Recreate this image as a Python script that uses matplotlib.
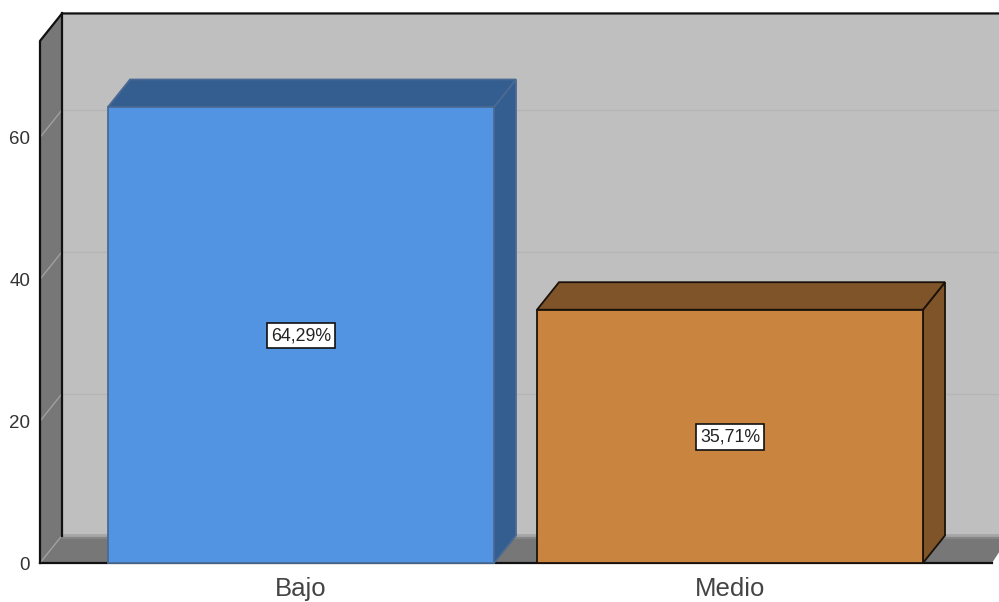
import matplotlib
matplotlib.use('Agg')
import matplotlib.pyplot as plt
from matplotlib.patches import Polygon

categories = ['Bajo', 'Medio']
values = [64.29, 35.71]
labels = ['64,29%', '35,71%']
yticks = [0, 20, 40, 60]

front = ['#5294E2', '#C98540']
top = ['#345D90', '#7E5428']
side = ['#345D90', '#7E5428']
edges = ['#4A6A94', '#1A120A']

# scales
PX_PER_UNIT = 7.093
PX_PER_CAT = 429.0
X0_PX = 301.0
Y0_PX = 563.0
DX = 22 / PX_PER_CAT
DY = 27.5 / PX_PER_UNIT
WIDTH = 386 / PX_PER_CAT

fig = plt.figure(figsize=(9.99, 6.02), dpi=100)
ax = fig.add_axes([0, 0, 1, 1])
ax.set_xlim(-X0_PX / PX_PER_CAT, (999 - X0_PX) / PX_PER_CAT)
ax.set_ylim((Y0_PX - 602) / PX_PER_UNIT, Y0_PX / PX_PER_UNIT)
ax.axis('off')

left = -(X0_PX - 40) / PX_PER_CAT
right = (992 - X0_PX) / PX_PER_CAT
far = (1010 - X0_PX) / PX_PER_CAT
ymax = 73.6


def poly(pts, fc, ec='none', lw=0, z=1):
    ax.add_patch(Polygon(pts, closed=True, fc=fc, ec=ec, lw=lw, zorder=z, joinstyle='miter'))


# back wall, side wall, floor
poly([(left + DX, DY), (far, DY), (far, ymax + DY), (left + DX, ymax + DY)], '#BFBFBF')
poly([(left, 0), (left + DX, DY), (left + DX, ymax + DY), (left, ymax)], '#777777')
poly([(left, 0), (left + DX, DY), (far, DY), (right, 0)], '#777777')
ax.plot([left + DX, far], [DY - 0.25, DY - 0.25], color='#858585', lw=3, zorder=2, solid_capstyle='butt')
ax.plot([left + DX, far], [DY + 0.1, DY + 0.1], color='#A6A6A6', lw=2, zorder=2, solid_capstyle='butt')

# gridlines
for t in yticks:
    ax.plot([left, left + DX], [t, t + DY], color='#A0A0A0', lw=1, zorder=2)
    if t > 0:
        ax.plot([left + DX, far], [t + DY, t + DY], color='#B5B5B5', lw=1, zorder=2)
    ax.text(left - 10 / PX_PER_CAT, t - 0.35, str(t), ha='right', va='center',
            fontsize=13.5, color='#333333', family='Liberation Sans')

# frame
ax.plot([left, left, left + DX, far], [0, ymax, ymax + DY, ymax + DY], color='#111111', lw=1.6, zorder=3)
ax.plot([left + DX, left + DX], [DY, ymax + DY], color='#111111', lw=1.6, zorder=3)
ax.plot([left, right], [0, 0], color='#111111', lw=1.6, zorder=3)

# bars
for i, v in enumerate(values):
    x0 = i - WIDTH / 2
    x1 = i + WIDTH / 2
    ec = edges[i]
    poly([(x1, 0), (x1 + DX, DY), (x1 + DX, v + DY), (x1, v)], side[i], ec, 1.3, 4)
    poly([(x0, v), (x0 + DX, v + DY), (x1 + DX, v + DY), (x1, v)], top[i], ec, 1.3, 4)
    poly([(x0, 0), (x1, 0), (x1, v), (x0, v)], front[i], ec, 1.3, 5)
    ax.text(i, v / 2 - 0.1, labels[i], ha='center', va='center', fontsize=12.8, color='#222222',
            family='Liberation Sans', zorder=6,
            bbox=dict(boxstyle='square,pad=0.24', fc='white', ec='#111111', lw=1.2))
    ax.text(i, -3.7, categories[i], ha='center', va='center', fontsize=18.5, color='#444444',
            family='Liberation Sans')

fig.savefig('out.png', dpi=100)
